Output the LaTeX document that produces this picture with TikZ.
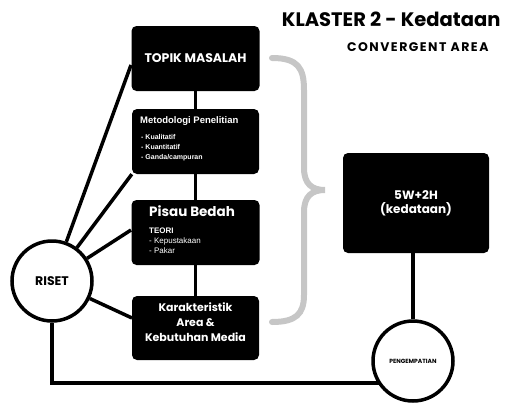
\documentclass[tikz,border=0pt]{standalone}
\usepackage{fontspec}
\setmainfont{Poppins}
\newfontfamily\listfont{Liberation Sans}
\usetikzlibrary{backgrounds}

\tikzset{
  kotak/.style={fill=black, rounded corners=5pt, text=white, font=\bfseries, align=center, inner sep=0pt},
  teks/.style={text=white, inner sep=0pt, anchor=base west},
  bulat/.style={circle, draw=black, line width=3.5pt, fill=white, inner sep=0pt, minimum size=80pt},
  garis/.style={line width=3.5pt},
  kurung/.style={line width=6pt, draw=gray!45, line cap=round},
}

\begin{document}
\begin{tikzpicture}[x=1pt,y=-1pt]
  \useasboundingbox (0,0) rectangle (506,402);

  % judul
  \node[anchor=east, font=\fontsize{19.5}{22}\selectfont\bfseries] (judul) at (504,19) {KLASTER 2 - Kedataan};
  \node[anchor=east, font=\fontsize{12.5}{14}\selectfont\bfseries\addfontfeatures{LetterSpace=12}] (sub) at (492,47) {CONVERGENT AREA};

  % kotak kiri
  \node[kotak, minimum width=128pt, minimum height=65pt, font=\fontsize{12.5}{14}\selectfont\bfseries] (topik) at (195.5,58.5) {TOPIK MASALAH};
  \node[kotak, minimum width=127pt, minimum height=65pt] (metode) at (195.5,141.5) {};
  \node[teks, font=\listfont\fontsize{9.5}{11}\selectfont\bfseries] (metodejudul) at (140,123) {Metodologi Penelitian};
  \foreach \isi [count=\i] in {Kualitatif, Kuantitatif, Ganda/campuran}
    \node[teks, font=\listfont\fontsize{7}{9}\selectfont\bfseries] (metode\i) at (141,129+10*\i) {- \isi};
  \node[kotak, minimum width=128pt, minimum height=65pt] (pisau) at (195.5,232.5) {};
  \node[teks, font=\fontsize{13.5}{15}\selectfont\bfseries] (pisaujudul) at (149,216) {Pisau Bedah};
  \node[teks, font=\listfont\fontsize{8}{10}\selectfont\bfseries] (teori) at (149,233) {TEORI};
  \foreach \isi [count=\i] in {Kepustakaan, Pakar}
    \node[teks, font=\listfont\fontsize{8}{10}\selectfont] (teori\i) at (149,233+10*\i) {- \isi};
  \node[kotak, minimum width=127pt, minimum height=64pt, font=\fontsize{11}{15}\selectfont\bfseries] (karak) at (195.5,328)
    {Karakteristik\\ Area \&\\ Kebutuhan Media\\[-3pt]};

  % kotak kanan
  \node[kotak, minimum width=146pt, minimum height=100pt, font=\fontsize{12}{14}\selectfont\bfseries] (kedataan) at (416,203)
    {5W+2H\\ (kedataan)};

  % lingkaran
  \node[bulat, font=\fontsize{12.5}{14}\selectfont\bfseries] (riset) at (52,281) {RISET};
  \node[bulat, font=\fontsize{6}{8}\selectfont\bfseries] (empati) at (413,361) {PENGEMPATIAN};
  \coordinate (belok) at (52,383);

  % garis penghubung
  \begin{scope}[on background layer]
    \draw[garis] (topik) -- (metode) -- (pisau) -- (karak);
    \draw[garis] (riset) -- (131,65);
    \draw[garis] (riset) -- (metode.south west);
    \draw[garis] (riset) -- (131,230);
    \draw[garis] (riset) -- (132,318);
    \draw[garis] (empati) -- (empati |- kedataan.south);
    \draw[garis] (riset) -- (belok) -- (belok -| empati);
  \end{scope}

  % kurung kurawal
  \draw[kurung] (272,58) .. controls (298,58) and (304,68) .. (304,90) -- (304,168)
    .. controls (304,184) and (312,190) .. (325,190)
    .. controls (312,190) and (304,196) .. (304,212) -- (304,295)
    .. controls (304,314) and (296,322) .. (272,322);
\end{tikzpicture}
\end{document}
